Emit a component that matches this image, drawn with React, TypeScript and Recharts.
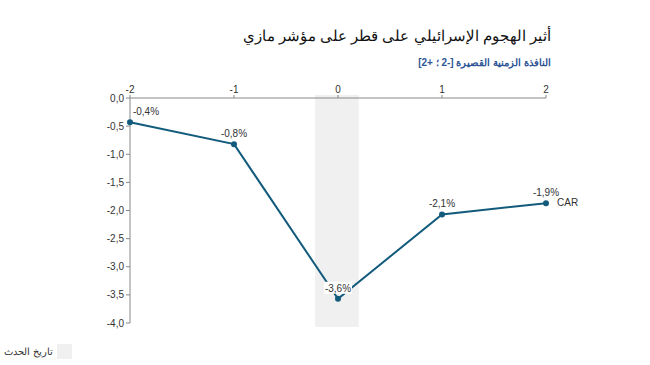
import { LineChart, Line, XAxis, YAxis, ReferenceArea, LabelList } from "recharts";

const days = [-2, -1, 0, 1, 2];
const car = [-0.43, -0.82, -3.57, -2.07, -1.87];
const yTicks = [0, -0.5, -1, -1.5, -2, -2.5, -3, -3.5, -4];

const data = days.map((d, i) => ({ day: d, car: car[i] }));

const LINE = "#125b7c";
const FONT = "'Liberation Sans', Arial, sans-serif";

const fmt = (v: number) => v.toFixed(1).replace(".", ",");

function PointLabel(props: any) {
  const { x, y, value, index } = props;
  const text = fmt(value) + "%";
  const dx = index === 0 ? 16 : 0;
  const last = index === data.length - 1;
  return (
    <g>
      {index === 2 && <rect x={x - 14} y={y - 17} width={28} height={12} fill="#fff" />}
      <text x={x + dx} y={y - 7} textAnchor="middle" fontSize={10} fill="#333" fontFamily={FONT}>
        {text}
      </text>
      {last && (
        <text x={x + 11} y={y + 3} fontSize={10} fill="#333" fontFamily={FONT}>
          CAR
        </text>
      )}
    </g>
  );
}

function Band(props: any) {
  const { x, y, width, height } = props;
  return <rect x={x} y={y - 3} width={width} height={height + 7} fill="#f0f0f0" />;
}

export default function App() {
  return (
    <div style={{ position: "absolute", left: 0, top: 0, width: 650, height: 365, background: "#fff", fontFamily: FONT }}>
      <div style={{ position: "absolute", right: 99, top: 27, fontSize: 15, color: "#111", direction: "rtl", whiteSpace: "nowrap" }}>
        أثير الهجوم الإسرائيلي على قطر على مؤشر مازي
      </div>
      <div style={{ position: "absolute", right: 99, top: 57, fontSize: 10, fontWeight: "bold", color: "#2f5597", direction: "rtl", whiteSpace: "nowrap" }}>
        النافذة الزمنية القصيرة [-2 ؛ +2]
      </div>
      <LineChart width={650} height={365} data={data} margin={{ top: 78, right: 104, bottom: 42, left: 0 }}>
        <ReferenceArea x1={-0.22} x2={0.2} y1={-4} y2={0} shape={<Band />} ifOverflow="visible" />
        <XAxis
          dataKey="day"
          type="number"
          orientation="top"
          domain={[-2, 2]}
          ticks={days}
          height={20}
          tick={{ fontSize: 10, fill: "#333", fontFamily: FONT }}
          tickSize={3}
          stroke="#888"
        />
        <YAxis
          type="number"
          domain={[-4, 0]}
          ticks={yTicks}
          width={130}
          tickFormatter={fmt}
          tick={{ fontSize: 10, fill: "#333", fontFamily: FONT }}
          tickSize={4}
          stroke="#888"
        />
        <Line
          dataKey="car"
          stroke={LINE}
          strokeWidth={2}
          dot={{ r: 2, fill: LINE, stroke: LINE }}
          isAnimationActive={false}
        >
          <LabelList dataKey="car" content={<PointLabel />} />
        </Line>
      </LineChart>
      <div style={{ position: "absolute", left: 57, top: 344, width: 15, height: 15, background: "#f0f0f0" }} />
      <div style={{ position: "absolute", right: 597, top: 346, fontSize: 10, color: "#333", direction: "rtl", whiteSpace: "nowrap" }}>
        تاريخ الحدث
      </div>
    </div>
  );
}
